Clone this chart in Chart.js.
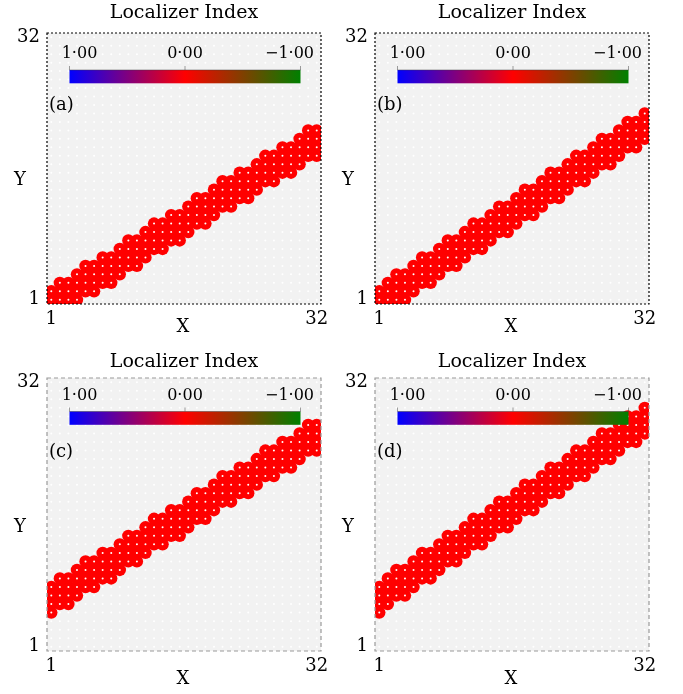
<!DOCTYPE html>
<html>
<head>
<meta charset="utf-8">
<script src="https://cdn.jsdelivr.net/npm/chart.js@4.4.0/dist/chart.umd.min.js"></script>
<style>
  html, body { margin: 0; padding: 0; background: #fff; }
  #wrap { position: relative; width: 683px; height: 694px; }
  canvas { position: absolute; }
</style>
</head>
<body>
<div id="wrap">
  <canvas id="panelA" width="341" height="347" style="left:0;top:0"></canvas>
  <canvas id="panelB" width="342" height="347" style="left:341px;top:0"></canvas>
  <canvas id="panelC" width="341" height="347" style="left:0;top:347px"></canvas>
  <canvas id="panelD" width="342" height="347" style="left:341px;top:347px"></canvas>
</div>
<script>
// 32 x 32 lattice, sites numbered 1..32 along X and Y
const latticeSites = Array.from({ length: 32 }, (_, i) => i + 1);
const axisTicks = [1, 32];
const axisTickLabels = ["1", "32"];

// colour scale of the localizer index
const colorbarValues = [1, 0, -1];
const colorbarLabels = ["1·00", "0·00", "−1·00"];
const colorbarColors = ["#0000ff", "#ff0000", "#008000"];

const panelTags = ["(a)", "(b)", "(c)", "(d)"];

// sites with index 0: lowest and highest row in each column x = 1..32
const bandLowA  = [1, 1, 1, 1, 2, 2, 3, 3, 4, 5, 5, 6, 7, 7, 8, 8, 9, 10, 10, 11, 12, 12, 13, 13, 14, 15, 15, 16, 16, 17, 18, 18];
const bandHighA = [2, 3, 3, 4, 5, 5, 6, 6, 7, 8, 8, 9, 10, 10, 11, 11, 12, 13, 13, 14, 15, 15, 16, 16, 17, 18, 18, 19, 19, 20, 21, 21];

const bandLowB  = [1, 1, 1, 1, 2, 3, 3, 4, 5, 5, 6, 7, 7, 8, 9, 9, 10, 11, 11, 12, 13, 13, 14, 15, 15, 16, 17, 17, 18, 19, 19, 20];
const bandHighB = [2, 3, 4, 4, 5, 6, 6, 7, 8, 8, 9, 10, 10, 11, 12, 12, 13, 14, 14, 15, 16, 16, 17, 18, 18, 19, 20, 20, 21, 22, 22, 23];

const bandLowC  = [5, 6, 6, 7, 8, 8, 9, 9, 10, 11, 11, 12, 13, 13, 14, 14, 15, 16, 16, 17, 18, 18, 19, 19, 20, 21, 21, 22, 22, 23, 24, 24];
const bandHighC = [8, 9, 9, 10, 11, 11, 12, 12, 13, 14, 14, 15, 16, 16, 17, 17, 18, 19, 19, 20, 21, 21, 22, 22, 23, 24, 24, 25, 25, 26, 27, 27];

const bandLowD  = [5, 6, 7, 7, 8, 9, 9, 10, 11, 11, 12, 13, 13, 14, 15, 15, 16, 17, 17, 18, 19, 19, 20, 21, 21, 22, 23, 23, 24, 25, 25, 26];
const bandHighD = [8, 9, 10, 10, 11, 12, 12, 13, 14, 14, 15, 16, 16, 17, 18, 18, 19, 20, 20, 21, 22, 22, 23, 24, 24, 25, 26, 26, 27, 28, 28, 29];

const serif = '"DejaVu Serif", "Liberation Serif", serif';

function latticePoints() {
    const pts = [];
    latticeSites.forEach((x) => latticeSites.forEach((y) => pts.push({ x: x, y: y })));
    return pts;
}

function bandPoints(low, high) {
    const pts = [];
    latticeSites.forEach((x, i) => {
        for (let y = low[i]; y <= high[i]; y++) pts.push({ x: x, y: y });
    });
    return pts;
}

// background, frame, colorbar and labels of one panel
const panelDecor = {
    id: "panelDecor",
    beforeDatasetsDraw(chart, args, o) {
        const { ctx, chartArea: a } = chart;
        ctx.save();
        ctx.fillStyle = "#f2f2f2";
        ctx.fillRect(a.left, a.top, a.right - a.left, a.bottom - a.top);
        ctx.restore();
    },
    afterDatasetsDraw(chart, args, o) {
        const { ctx, chartArea: a } = chart;
        ctx.save();

        // colorbar
        const bl = a.left + 22.5, br = a.right - 20.5, bt = o.barTop, bh = 13.3;
        const grad = ctx.createLinearGradient(bl, 0, br, 0);
        colorbarValues.forEach((v, i) => grad.addColorStop((1 - v) / 2, colorbarColors[i]));
        ctx.fillStyle = grad;
        ctx.fillRect(bl, bt, br - bl, bh);
        ctx.strokeStyle = "rgba(60,60,60,0.6)";
        ctx.lineWidth = 0.8;
        ctx.beginPath();
        ctx.moveTo(bl, bt);
        ctx.lineTo(br, bt);
        ctx.stroke();
        ctx.font = "16px " + serif;
        ctx.fillStyle = "#000";
        ctx.textBaseline = "middle";
        ctx.textAlign = "center";
        const labelShift = [10, 0, -11];
        colorbarValues.forEach((v, i) => {
            const px = bl + (br - bl) * (1 - v) / 2;
            ctx.beginPath();
            ctx.moveTo(px, bt);
            ctx.lineTo(px, bt - 4);
            ctx.stroke();
            ctx.fillText(colorbarLabels[i], px + labelShift[i], bt - 16);
        });

        // dashed frame
        ctx.strokeStyle = o.frameColor;
        ctx.lineWidth = 1.2;
        ctx.setLineDash(o.frameDash);
        ctx.strokeRect(a.left, a.top, a.right - a.left, a.bottom - a.top);
        ctx.setLineDash([]);

        // title, panel tag and axis titles
        ctx.font = "19px " + serif;
        ctx.textAlign = "center";
        ctx.fillText("Localizer Index", (a.left + a.right) / 2, o.titleY);
        ctx.font = "18px " + serif;
        ctx.fillText("X", (a.left + a.right) / 2 - 1, o.xTitleY);
        ctx.fillText("Y", a.left - 27, 180);
        ctx.textAlign = "left";
        ctx.fillText(o.tag, a.left + 2, 105);
        ctx.restore();
    },
};

function makePanel(canvasId, low, high, L) {
    const tickFont = { family: serif, size: 18 };
    const red = colorbarColors[colorbarValues.indexOf(0)];
    return new Chart(document.getElementById(canvasId), {
        type: "scatter",
        data: {
            datasets: [
                {
                    label: "lattice",
                    data: latticePoints(),
                    pointRadius: 1.0,
                    pointHoverRadius: 1.0,
                    backgroundColor: "#ffffff",
                    borderColor: "#ffffff",
                    pointBackgroundColor: "#ffffff",
                    pointBorderColor: "#ffffff",
                    borderWidth: 0,
                    pointBorderWidth: 0,
                    order: 0,
                    clip: 0,
                },
                {
                    label: "index 0",
                    data: bandPoints(low, high),
                    pointRadius: 6.2,
                    pointHoverRadius: 6.2,
                    backgroundColor: red,
                    borderColor: red,
                    pointBackgroundColor: red,
                    pointBorderColor: red,
                    borderWidth: 0,
                    pointBorderWidth: 0,
                    order: 1,
                    clip: 0,
                },
            ],
        },
        options: {
            responsive: false,
            animation: false,
            events: [],
            layout: { padding: { top: L.padTop, right: L.padRight, left: 0, bottom: 0 } },
            plugins: {
                legend: { display: false },
                tooltip: { enabled: false },
                panelDecor: L,
            },
            scales: {
                x: {
                    type: "linear",
                    min: 0.5,
                    max: 32.5,
                    afterBuildTicks: (s) => { s.ticks = axisTicks.map((v) => ({ value: v })); },
                    afterFit: (s) => { s.height = L.xAxisHeight; },
                    grid: { display: false, drawTicks: false },
                    border: { display: false },
                    ticks: {
                        font: tickFont,
                        color: "#000",
                        padding: L.xTickPad,
                        maxRotation: 0,
                        autoSkip: false,
                        callback: (v) => axisTickLabels[axisTicks.indexOf(v)],
                    },
                },
                y: {
                    type: "linear",
                    min: 0.5,
                    max: 32.5,
                    afterBuildTicks: (s) => { s.ticks = axisTicks.map((v) => ({ value: v })); },
                    afterFit: (s) => { s.width = L.yAxisWidth; },
                    grid: { display: false, drawTicks: false },
                    border: { display: false },
                    ticks: {
                        font: tickFont,
                        color: "#000",
                        padding: 7,
                        autoSkip: false,
                        callback: (v) => axisTickLabels[axisTicks.indexOf(v)],
                    },
                },
            },
        },
        plugins: [panelDecor],
    });
}

makePanel("panelA", bandLowA, bandHighA, {
    tag: panelTags[0], padTop: 33, padRight: 20, yAxisWidth: 47, xAxisHeight: 43, xTickPad: 5,
    titleY: 13.5, xTitleY: 327, barTop: 70, frameColor: "#000", frameDash: [2, 2],
});
makePanel("panelB", bandLowB, bandHighB, {
    tag: panelTags[1], padTop: 33, padRight: 34, yAxisWidth: 34, xAxisHeight: 43, xTickPad: 5,
    titleY: 13.5, xTitleY: 327, barTop: 70, frameColor: "#000", frameDash: [2, 2],
});
makePanel("panelC", bandLowC, bandHighC, {
    tag: panelTags[2], padTop: 31, padRight: 20, yAxisWidth: 47, xAxisHeight: 43, xTickPad: 5,
    titleY: 15, xTitleY: 332, barTop: 64.5, frameColor: "#9a9a9a", frameDash: [4, 3],
});
makePanel("panelD", bandLowD, bandHighD, {
    tag: panelTags[3], padTop: 31, padRight: 34, yAxisWidth: 34, xAxisHeight: 43, xTickPad: 5,
    titleY: 15, xTitleY: 332, barTop: 64.5, frameColor: "#9a9a9a", frameDash: [4, 3],
});
</script>
</body>
</html>
